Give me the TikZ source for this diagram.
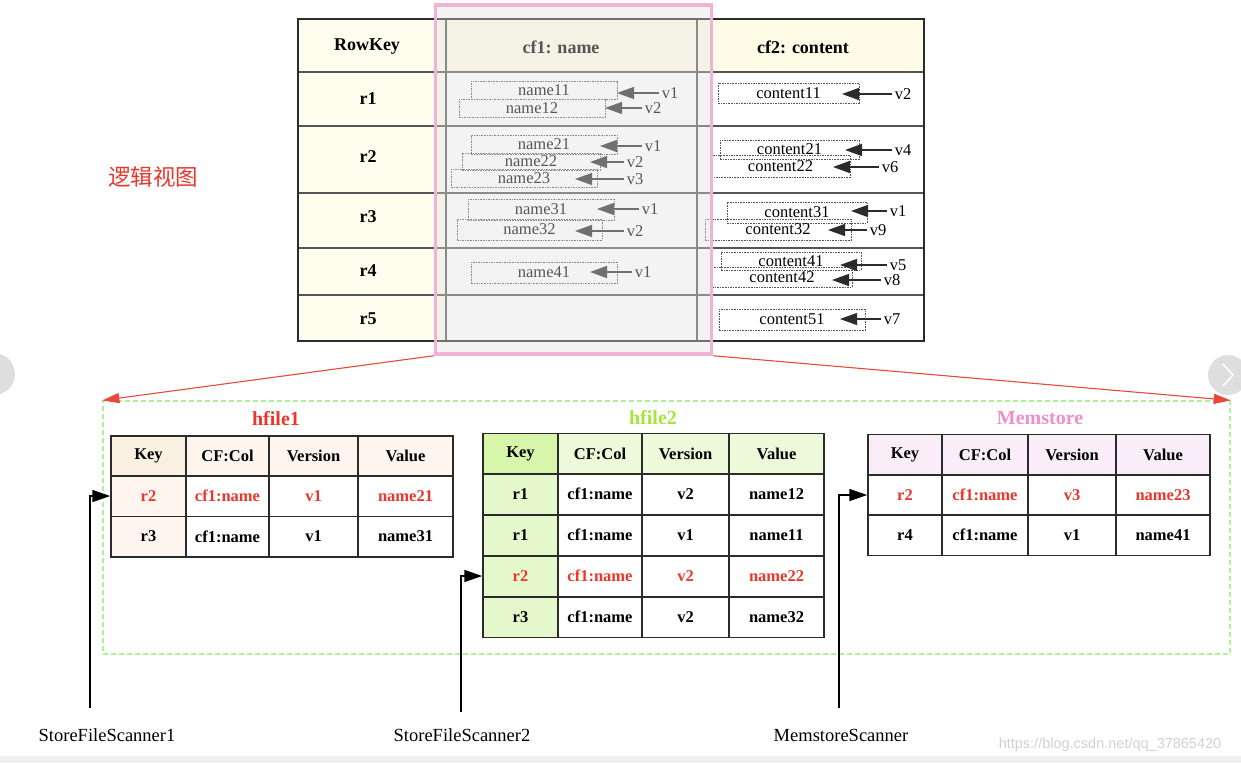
\documentclass[tikz,border=0pt]{standalone}
\usepackage{fontspec}
\setmainfont{Liberation Serif}
\newfontfamily\cjkfont{Noto Sans CJK SC}
\newfontfamily\markfont{Liberation Sans}
\usetikzlibrary{arrows.meta}
\definecolor{tabline}{HTML}{2B2B2B}
\definecolor{gridgray}{HTML}{555555}
\definecolor{keycream}{HTML}{FFFDEE}
\definecolor{headcream}{HTML}{FEFCE6}
\definecolor{pinkline}{HTML}{F0B2D5}
\definecolor{veil}{HTML}{E2E2E2}
\definecolor{hotred}{HTML}{E8382D}
\definecolor{arrowred}{HTML}{E8473C}
\definecolor{dashgreen}{HTML}{B3F09A}
\definecolor{limegreen}{HTML}{A6E63C}
\definecolor{mempink}{HTML}{EE8FC8}
\definecolor{hfkey}{HTML}{FAF0E2}
\definecolor{hfhead}{HTML}{FDF5EE}
\definecolor{hgkey}{HTML}{D7F6AC}
\definecolor{hghead}{HTML}{ECFADA}
\definecolor{hgbody}{HTML}{E4F8CB}
\definecolor{mshead}{HTML}{F9EEF7}
\definecolor{uigray}{HTML}{DEDEDE}
\tikzset{
  hbold/.style={font=\bfseries\fontsize{18}{19}\selectfont},
  tcell/.style={draw=tabline, line width=1.5pt, inner sep=0pt, minimum height=40.5, font=\bfseries\fontsize{16.5}{17}\selectfont},
  valbox/.style={draw=gridgray, line width=0.9pt, dash pattern=on 1.6pt off 1pt, inner sep=0pt, font=\fontsize{16.5}{17}\selectfont},
  vlabel/.style={inner xsep=3pt, inner ysep=1pt, font=\fontsize{16.5}{17}\selectfont},
  varrow/.style={draw=tabline, line width=1.4pt, -{Triangle[length=17pt,width=12pt]}},
  scanarrow/.style={draw=black, line width=1.5pt, -{Triangle[length=18pt,width=12pt]}},
  redarrow/.style={draw=arrowred, line width=1.1pt, -{Triangle[length=17pt,width=10pt]}},
  scanlabel/.style={font=\fontsize{18.5}{19}\selectfont},
  filetitle/.style={font=\bfseries\fontsize{20}{21}\selectfont},
}

\begin{document}
\begin{tikzpicture}[x=1pt, y=-1pt]
  \useasboundingbox (0,0) rectangle (1241,763);

  % Logical view table
  \fill[keycream] (298,19) rectangle (446,341);
  \fill[headcream] (446,19) rectangle (924,72);
  \fill[white] (446,72) rectangle (924,341);
  \foreach \y in {72,126,193,248,295} \draw[gridgray, line width=1.3pt] (298,\y) -- (924,\y);
  \foreach \x in {446,697} \draw[gridgray, line width=1.3pt] (\x,19) -- (\x,341);
  \draw[tabline, line width=1.8pt] (298,19) rectangle (924,341);

  \node[hbold] (hrow) at (367,47) {RowKey};
  \node[hbold] (hcf1) at (561,47) {cf1: name};
  \node[hbold] (hcf2) at (803,47) {cf2: content};
  \foreach \ri/\y in {1/99,2/157,3/217,4/271,5/319}
    \node[hbold] (rk\ri) at (368,\y) {r\ri};

  % cf1 cells
  \foreach \nm/\bx/\by/\bw/\bh/\txt/\ver/\vx/\vy/\tx in {
    n11/544/90/146/18/name11/v1/670/93/617,
    n12/532/108/146/18/name12/v2/653/108/605,
    n21/544/144.5/146/19/name21/v1/653/146/600,
    n22/531/161.5/138/17/name22/v2/635/162/590,
    n23/524/178/146/18/name23/v3/635/179/575,
    n31/541/209.5/146/21/name31/v1/650/209/597,
    n32/529.5/229.5/145/21/name32/v2/635/231/575,
    n41/544/272.5/146/21/name41/v1/643/272/590}
  {
    \node[valbox, minimum width=\bw, minimum height=\bh] (\nm) at (\bx,\by) {\txt};
    \node[vlabel] (v\nm) at (\vx,\vy) {\ver};
    \coordinate (t\nm) at (\tx,\vy);
    \draw[varrow] (v\nm.west) -- (t\nm);
  }

  % cf2 cells
  \foreach \nm/\bx/\by/\bw/\bh/\txt/\ver/\vx/\vy/\tx in {
    c11/788.5/93/141/20/content11/v2/903/94/842,
    c21/789.5/149.5/139/19/content21/v4/903/150/845,
    c22/780.5/166/139/22/content22/v6/890/167/833,
    c31/797/212.5/140/21/content31/v1/898/211/851,
    c32/778/229.5/146/21/content32/v9/878/230/828,
    c41/791/261/140/18/content41/v5/898/265/840,
    c42/782/277/140/20/content42/v8/892/280/832,
    c51/792/319.5/146/21/content51/v7/892/319/840}
  {
    \node[valbox, minimum width=\bw, minimum height=\bh] (\nm) at (\bx,\by) {\txt};
    \node[vlabel] (v\nm) at (\vx,\vy) {\ver};
    \coordinate (t\nm) at (\tx,\vy);
    \draw[varrow] (v\nm.west) -- (t\nm);
  }

  % Highlight on cf1
  \node[draw=pinkline, line width=3.5pt, fill=veil, fill opacity=0.38, inner sep=0pt,
        minimum width=276, minimum height=349] (cfbox) at (573.5,179.5) {};

  \node[font=\cjkfont\fontsize{22.5}{23}\selectfont, text=hotred] (logic) at (153,177) {逻辑视图};

  % Store files
  \node[draw=dashgreen, line width=1.3pt, dash pattern=on 5pt off 3pt, inner sep=0pt,
        minimum width=1127, minimum height=253] (store) at (666.5,527.5) {};
  \draw[redarrow] (cfbox.south west) -- (store.north west);
  \draw[redarrow] (cfbox.south east) -- (store.north east);

  \node[filetitle, text=hotred] (hf1) at (276,419) {hfile1};
  \node[filetitle, text=limegreen] (hf2) at (653,418) {hfile2};
  \node[filetitle, text=mempink] (mem) at (1040,418) {Memstore};

  % hfile1
  \foreach \cx/\cw/\hc/\bc/\hd/\va/\vb [count=\ci] in {
    148.5/75/hfkey/hfhead/Key/r2/r3,
    227.5/83/hfhead/white/CF:Col/cf1:name/cf1:name,
    313.5/89/hfhead/white/Version/v1/v1,
    405.5/95/hfhead/white/Value/name21/name31}
  {
    \node[tcell, fill=\hc, minimum width=\cw] (hfa\ci) at (\cx,456) {\hd};
    \node[tcell, fill=\bc, minimum width=\cw, text=hotred] (hfa\ci r1) at (\cx,496) {\va};
    \node[tcell, fill=\bc, minimum width=\cw] (hfa\ci r2) at (\cx,536.5) {\vb};
  }

  % hfile2
  \foreach \cx/\cw/\hc/\bc/\hd/\va/\vb/\vc/\vd [count=\ci] in {
    520.5/75/hgkey/hgbody/Key/r1/r1/r2/r3,
    600/84/hghead/white/CF:Col/cf1:name/cf1:name/cf1:name/cf1:name,
    685.5/87/hghead/white/Version/v2/v1/v2/v2,
    776.5/95/hghead/white/Value/name12/name11/name22/name32}
  {
    \node[tcell, fill=\hc, minimum width=\cw] (hfb\ci) at (\cx,453.5) {\hd};
    \node[tcell, fill=\bc, minimum width=\cw] (hfb\ci r1) at (\cx,494) {\va};
    \node[tcell, fill=\bc, minimum width=\cw] (hfb\ci r2) at (\cx,535) {\vb};
    \node[tcell, fill=\bc, minimum width=\cw, text=hotred] (hfb\ci r3) at (\cx,576) {\vc};
    \node[tcell, fill=\bc, minimum width=\cw] (hfb\ci r4) at (\cx,617) {\vd};
  }

  % Memstore
  \foreach \cx/\cw/\hd/\va/\vb [count=\ci] in {
    905/74/Key/r2/r4,
    985/86/CF:Col/cf1:name/cf1:name,
    1072/88/Version/v3/v1,
    1163/94/Value/name23/name41}
  {
    \node[tcell, fill=mshead, minimum width=\cw] (msa\ci) at (\cx,454.5) {\hd};
    \node[tcell, fill=white, minimum width=\cw, text=hotred] (msa\ci r1) at (\cx,495) {\va};
    \node[tcell, fill=white, minimum width=\cw] (msa\ci r2) at (\cx,535) {\vb};
  }

  % Scanners
  \node[scanlabel] (sfs1) at (107,735) {StoreFileScanner1};
  \node[scanlabel] (sfs2) at (462,735) {StoreFileScanner2};
  \node[scanlabel] (mss) at (841,735) {MemstoreScanner};
  \coordinate (sc1) at (90,708);
  \coordinate (sc2) at (461,712);
  \coordinate (sc3) at (839,708);
  \draw[scanarrow] (sc1) |- (hfa1r1.west);
  \draw[scanarrow] (sc2) |- (hfb1r3.west);
  \draw[scanarrow] (sc3) |- (msa1r1.west);

  % Page furniture
  \fill[uigray] (-6,374) circle[radius=21pt];
  \fill[uigray] (1228,375) circle[radius=20pt];
  \draw[white, line width=1.5pt] (1223,364) -- (1233,375) -- (1223,386);
  \fill[black!6] (0,756) rectangle (1241,763);
  \node[font=\markfont\fontsize{14.5}{15}\selectfont, text=black!18] (mark) at (1110,745) {https://blog.csdn.net/qq\_37865420};
\end{tikzpicture}
\end{document}
